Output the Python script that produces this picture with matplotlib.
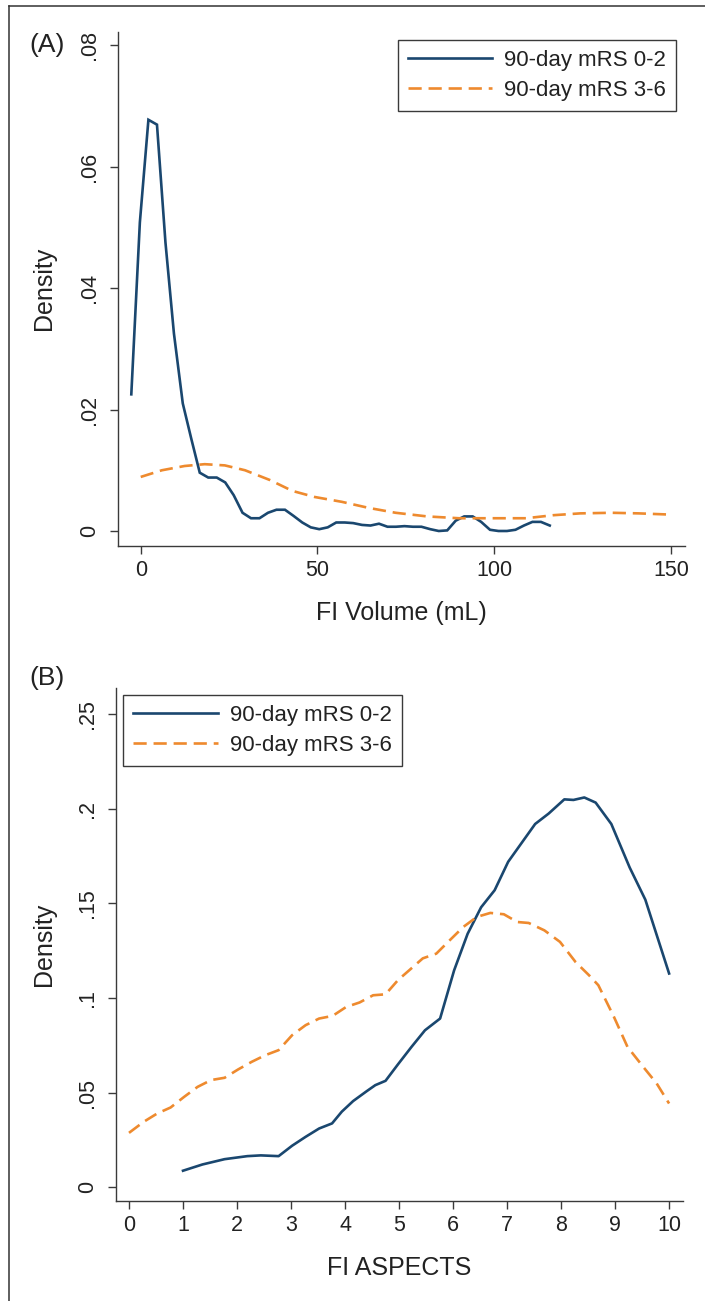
import matplotlib
matplotlib.use("Agg")
import matplotlib.pyplot as plt
from matplotlib.lines import Line2D

plt.rcParams['font.family'] = ['Liberation Sans', 'DejaVu Sans']

# ---------------- Data ----------------
series_labels = ["90-day mRS 0-2", "90-day mRS 3-6"]

# Panel A: FI Volume (mL)
volA_good_x = [-2.66, -0.24, 2.18, 4.6, 7.0, 9.4, 11.9, 14.3, 16.7, 19.1,
               21.5, 23.9, 26.3, 28.8, 31.2, 33.6, 36.0, 38.4, 40.8, 43.2,
               45.7, 48.1, 50.5, 52.9, 55.3, 57.7, 60.1, 62.6, 65.0, 67.4,
               69.8, 72.2, 74.6, 77.0, 79.4, 81.9, 84.3, 86.7, 89.1, 91.5,
               93.9, 96.3, 98.8, 101.2, 103.6, 106.0, 108.4, 110.8, 113.2, 115.7]
volA_good_y = [0.0225, 0.0508, 0.0677, 0.0669, 0.0475, 0.0325, 0.0210, 0.0152, 0.0096, 0.0088,
               0.0088, 0.0080, 0.0059, 0.0030, 0.0021, 0.0021, 0.0030, 0.0035, 0.0035, 0.0025,
               0.0014, 0.0006, 0.0003, 0.0006, 0.0014, 0.0014, 0.0013, 0.0010, 0.0009, 0.0012,
               0.0007, 0.0007, 0.0008, 0.0007, 0.0007, 0.0003, 0.0000, 0.0001, 0.0017, 0.0024,
               0.0024, 0.0015, 0.0002, 0.0000, 0.0000, 0.0002, 0.0009, 0.0015, 0.0015, 0.0009]

volA_poor_x = [0, 6, 12.4, 18.1, 23.8, 29.5, 36.5, 42.9, 49.2, 56.9,
               64.5, 72.1, 81, 90, 100.1, 109, 116.7, 124.3, 133.2, 140.9, 149.8]
volA_poor_y = [0.0089, 0.0100, 0.0107, 0.0110, 0.0108, 0.0100, 0.0084, 0.0066, 0.0056, 0.0048,
               0.0038, 0.0030, 0.0024, 0.0021, 0.0021, 0.0021, 0.0026, 0.0029, 0.0030, 0.0029, 0.0027]

# Panel B: FI ASPECTS
aspB_good_x = [1.0, 1.36, 1.77, 2.19, 2.44, 2.77, 3.02, 3.27, 3.52, 3.76,
               3.94, 4.15, 4.4, 4.56, 4.75, 4.98, 5.23, 5.48, 5.76, 6.02,
               6.27, 6.52, 6.77, 7.02, 7.27, 7.52, 7.77, 8.06, 8.23, 8.43,
               8.64, 8.93, 9.27, 9.56, 10.0]
aspB_good_y = [0.0088, 0.0121, 0.0149, 0.0165, 0.0169, 0.0165, 0.0220, 0.0267, 0.0311, 0.0338,
               0.0400, 0.0456, 0.0508, 0.0540, 0.0563, 0.0650, 0.0742, 0.0830, 0.0892, 0.1147,
               0.1340, 0.1480, 0.1570, 0.1720, 0.1820, 0.1920, 0.1975, 0.2050, 0.2047, 0.2060,
               0.2033, 0.1920, 0.1690, 0.1520, 0.1130]

aspB_poor_x = [0.0, 0.27, 0.52, 0.77, 1.02, 1.27, 1.52, 1.77, 2.02, 2.27,
               2.52, 2.77, 3.02, 3.27, 3.52, 3.77, 4.02, 4.27, 4.52, 4.75,
               4.98, 5.44, 5.69, 5.94, 6.19, 6.44, 6.69, 6.94, 7.19, 7.4,
               7.69, 7.98, 8.27, 8.52, 8.69, 8.98, 9.23, 9.52, 9.77, 10.0]
aspB_poor_y = [0.0288, 0.0346, 0.0390, 0.0422, 0.0478, 0.0531, 0.0567, 0.0579, 0.0623, 0.0663,
               0.0698, 0.0725, 0.0804, 0.0857, 0.0892, 0.0906, 0.0953, 0.0977, 0.1015, 0.1020,
               0.1095, 0.1210, 0.1235, 0.1306, 0.1376, 0.1429, 0.1450, 0.1443, 0.1402, 0.1397,
               0.1358, 0.1297, 0.1190, 0.1120, 0.1068, 0.0900, 0.0742, 0.0637, 0.0549, 0.0443]

A_xticks = [0, 50, 100, 150]
A_xticklabels = ["0", "50", "100", "150"]
A_yticks = [0, 0.02, 0.04, 0.06, 0.08]
A_yticklabels = ["0", ".02", ".04", ".06", ".08"]
B_xticks = list(range(0, 11))
B_xticklabels = [str(v) for v in B_xticks]
B_yticks = [0, 0.05, 0.10, 0.15, 0.20, 0.25]
B_yticklabels = ["0", ".05", ".1", ".15", ".2", ".25"]

# ---------------- Styling ----------------
W, H = 705, 1301
NAVY = "#1a476f"
ORANGE = "#ee8a2e"
AXC = "#3a3a3a"
LW = 1.9
DASH = (0, (5.0, 2.6))
TICK_FS = 15.5
LAB_FS = 18
LEG_FS = 16
PANEL_FS = 19

fig = plt.figure(figsize=(W / 100, H / 100), dpi=100)

def px_axes(l, t, r, b):
    return [l / W, 1 - b / H, (r - l) / W, (b - t) / H]

axA = fig.add_axes(px_axes(117.8, 31.7, 684.8, 546))
axB = fig.add_axes(px_axes(115.6, 687.7, 682.6, 1201))

def style(ax):
    for s in ["top", "right"]:
        ax.spines[s].set_visible(False)
    for s in ["left", "bottom"]:
        ax.spines[s].set_color(AXC)
        ax.spines[s].set_linewidth(1.0)
    ax.tick_params(axis="both", direction="out", length=5.8, width=1.0,
                   color=AXC, labelsize=TICK_FS, labelcolor="#222222")
    ax.tick_params(axis="x", pad=4)
    ax.tick_params(axis="y", pad=7)
    for lab in ax.get_yticklabels():
        lab.set_rotation(90)
        lab.set_va("center")
    ax.patch.set_alpha(0)

# Panel A
axA.plot(volA_good_x, volA_good_y, color=NAVY, lw=LW, solid_joinstyle="miter")
axA.plot(volA_poor_x, volA_poor_y, color=ORANGE, lw=LW, linestyle=DASH)
axA.set_xlim(-6.48, 153.9)
axA.set_ylim(-0.00247, 0.0822)
axA.set_xticks(A_xticks, A_xticklabels)
axA.set_yticks(A_yticks, A_yticklabels)
style(axA)

# Panel B
axB.plot(aspB_good_x, aspB_good_y, color=NAVY, lw=LW)
axB.plot(aspB_poor_x, aspB_poor_y, color=ORANGE, lw=LW, linestyle=DASH)
axB.set_xlim(-0.248, 10.25)
axB.set_ylim(-0.0072, 0.264)
axB.set_xticks(B_xticks, B_xticklabels)
axB.set_yticks(B_yticks, B_yticklabels)
style(axB)

handles = [Line2D([], [], color=NAVY, lw=LW),
           Line2D([], [], color=ORANGE, lw=LW, linestyle=DASH)]

def add_legend(l, t):
    leg = fig.legend(handles, series_labels, loc="upper left",
                     bbox_to_anchor=(l / W, 1 - t / H), bbox_transform=fig.transFigure,
                     fontsize=LEG_FS, frameon=True, fancybox=False, shadow=False,
                     handlelength=3.8, handletextpad=0.55, borderpad=0.45,
                     labelspacing=0.4, borderaxespad=0)
    fr = leg.get_frame()
    fr.set_edgecolor(AXC)
    fr.set_linewidth(1.0)
    fr.set_facecolor("white")
    fr.set_alpha(1)
    for t_ in leg.get_texts():
        t_.set_color("#222222")
    return leg

add_legend(397.7, 40)
add_legend(123.2, 695)

# Titles / labels
def ftext(x, y, s, **kw):
    fig.text(x / W, 1 - y / H, s, ha="center", va="center", color="#222222", **kw)

ftext(46.7, 45, "(A)", fontsize=PANEL_FS)
ftext(46.7, 678, "(B)", fontsize=PANEL_FS)
ftext(44, 288, "Density", fontsize=LAB_FS, rotation=90)
ftext(44, 944, "Density", fontsize=LAB_FS, rotation=90)
ftext(401.5, 613, "FI Volume (mL)", fontsize=LAB_FS)
ftext(399.3, 1268, "FI ASPECTS", fontsize=LAB_FS)

# Outer frame (top and left edges visible)
fig.add_artist(Line2D([9 / W, 1.0], [1 - 6 / H, 1 - 6 / H], transform=fig.transFigure,
                      color="#333333", lw=1.1))
fig.add_artist(Line2D([9 / W, 9 / W], [0.0, 1 - 6 / H], transform=fig.transFigure,
                      color="#333333", lw=1.1))

fig.savefig("out.png", dpi=100, facecolor="white")
